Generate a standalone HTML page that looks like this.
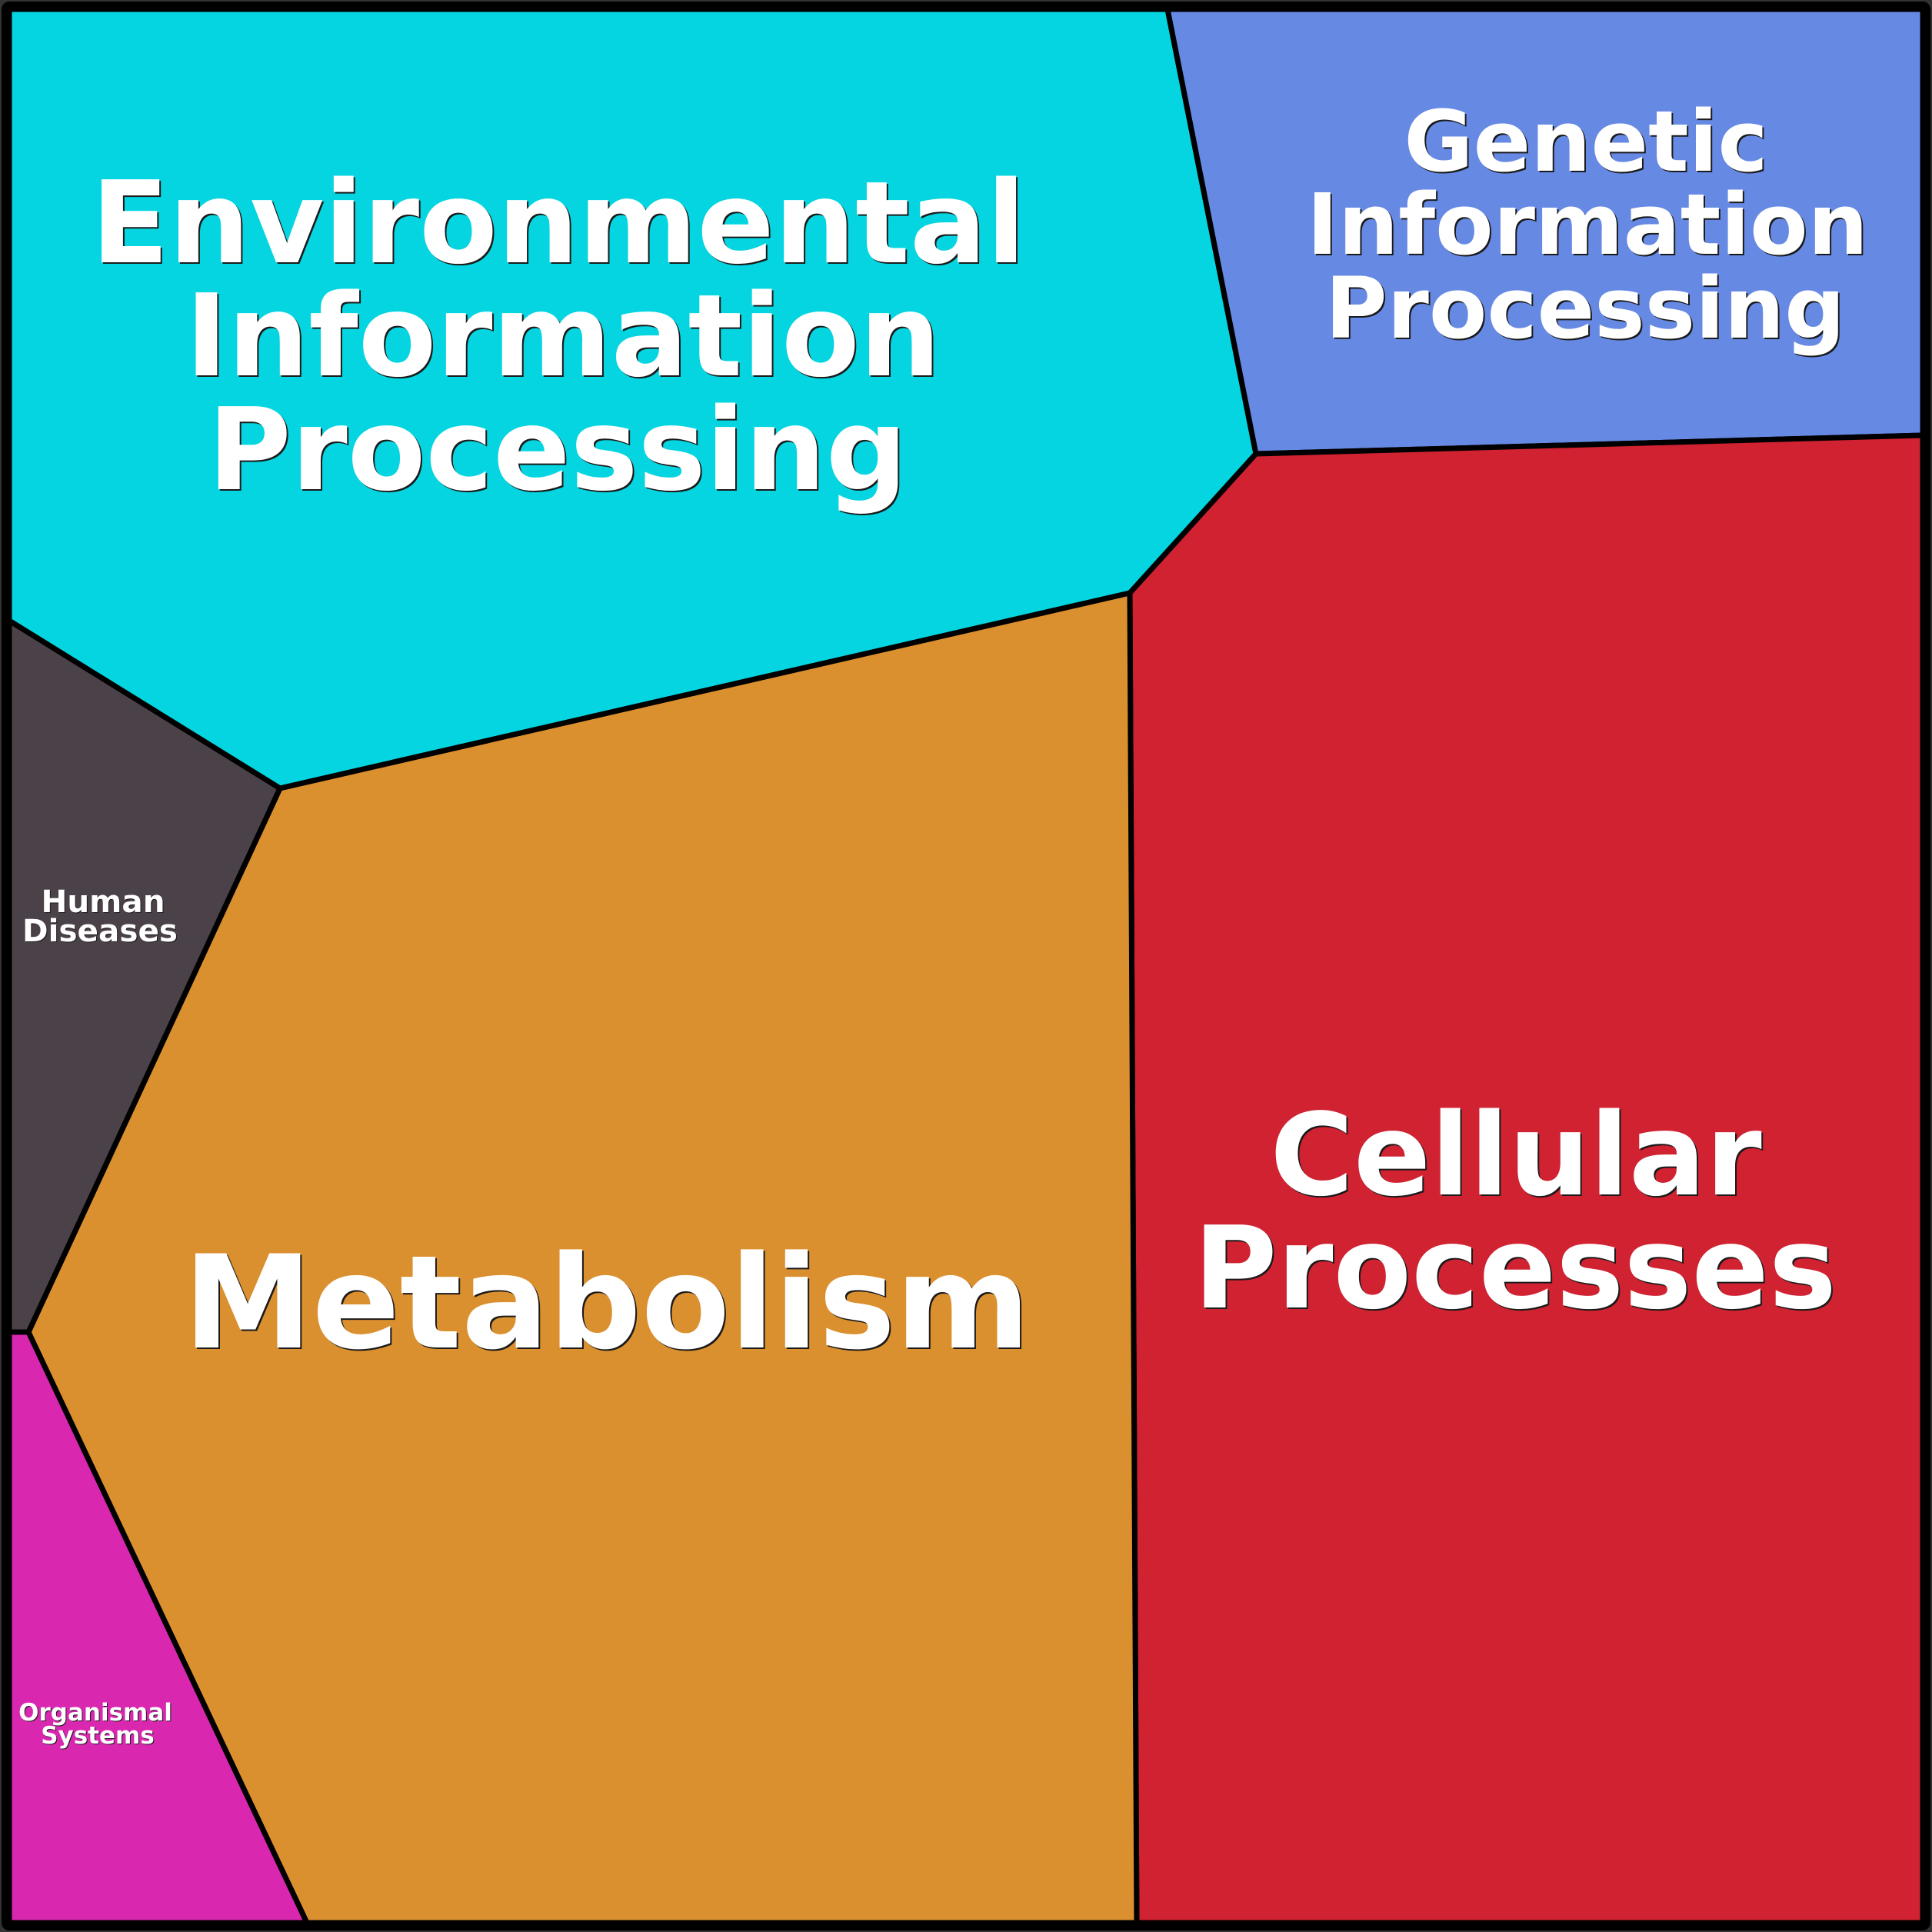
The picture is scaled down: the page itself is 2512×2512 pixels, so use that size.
<!DOCTYPE html>
<html>
<head>
<meta charset="utf-8">
<style>
html,body{margin:0;padding:0;background:#333;}
svg{display:block;}
text{font-family:"DejaVu Sans","Liberation Sans",sans-serif;font-weight:bold;text-anchor:middle;}
.s{fill:#1a1a1a;}
.w{fill:#ffffff;}
</style>
</head>
<body>
<svg width="2512" height="2512" viewBox="0 0 2512 2512" xmlns="http://www.w3.org/2000/svg">
  <rect x="0" y="0" width="2512" height="2512" fill="#333"/>
  <g stroke="#000" stroke-width="7" stroke-linejoin="round">
    <polygon points="12,12 1518,12 1633,590 1469,771 364,1025 12,807" fill="#05D5E0"/>
    <polygon points="1518,12 2500,12 2500,566 1633,590" fill="#6689E4"/>
    <polygon points="1633,590 2500,566 2500,2500 1478,2500 1469,771" fill="#D02231"/>
    <polygon points="1469,771 1478,2500 399,2500 37,1732 364,1025" fill="#DB9030"/>
    <polygon points="12,807 364,1025 37,1732 12,1732" fill="#4B4148"/>
    <polygon points="12,1732 37,1732 399,2500 12,2500" fill="#D927B0"/>
  </g>
  <rect x="7" y="7" width="2498" height="2498" rx="5" fill="none" stroke="#000" stroke-width="10"/>

  <!-- Environmental Information Processing -->
  <g font-size="148">
    <text class="s" x="728" y="343">Environmental</text>
    <text class="w" x="726" y="341">Environmental</text>
    <text class="s" x="734" y="490">Information</text>
    <text class="w" x="732" y="488">Information</text>
    <text class="s" x="727" y="638">Processing</text>
    <text class="w" x="725" y="636">Processing</text>
  </g>

  <!-- Genetic Information Processing -->
  <g font-size="110">
    <text class="s" x="2064" y="224">Genetic</text>
    <text class="w" x="2062" y="222">Genetic</text>
    <text class="s" x="2066" y="332">Information</text>
    <text class="w" x="2064" y="330">Information</text>
    <text class="s" x="2063" y="441">Processing</text>
    <text class="w" x="2061" y="439">Processing</text>
  </g>

  <!-- Cellular Processes -->
  <g font-size="148">
    <text class="s" x="1973" y="1555">Cellular</text>
    <text class="w" x="1971" y="1553">Cellular</text>
    <text class="s" x="1972" y="1702">Processes</text>
    <text class="w" x="1970" y="1700">Processes</text>
  </g>

  <!-- Metabolism -->
  <g font-size="168">
    <text class="s" x="791" y="1754">Metabolism</text>
    <text class="w" x="789" y="1752">Metabolism</text>
  </g>

  <!-- Human Diseases -->
  <g font-size="40.5">
    <text class="s" x="135" y="1187">Human</text>
    <text class="w" x="134" y="1186">Human</text>
    <text class="s" x="131" y="1225">Diseases</text>
    <text class="w" x="130" y="1224">Diseases</text>
  </g>

  <!-- Organismal Systems -->
  <g font-size="31">
    <text class="s" x="125" y="2238">Organismal</text>
    <text class="w" x="124" y="2237">Organismal</text>
    <text class="s" x="128" y="2268">Systems</text>
    <text class="w" x="127" y="2267">Systems</text>
  </g>
</svg>
</body>
</html>
